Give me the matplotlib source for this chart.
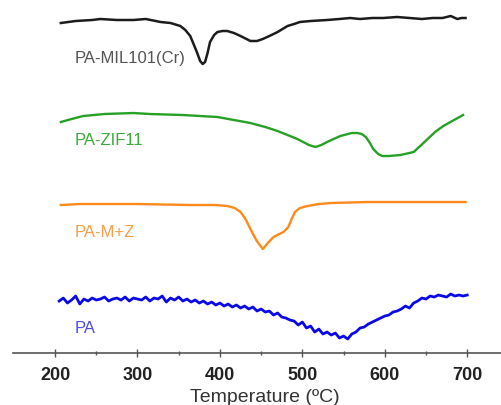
import numpy as np
import matplotlib
matplotlib.use("Agg")
import matplotlib.pyplot as plt

plt.rcParams['font.family'] = ['Liberation Sans', 'DejaVu Sans']

# DTG curves, stacked with offsets (a.u.)
mil_T = [207, 225, 245, 255, 275, 295, 310, 328, 340, 352, 358, 364, 368, 372, 376, 379, 382, 385, 388,
         393, 397, 403, 409, 417, 425, 437, 445, 452, 460, 470, 482, 490, 497, 510, 530, 545, 558, 570,
         585, 598, 615, 630, 645, 658, 670, 680, 688, 693, 698]
mil_y = [330, 332, 333, 334, 333, 333, 334, 331, 330, 327, 323, 317, 309, 301, 292, 289, 291, 300, 311,
         318, 321, 322, 322, 320, 317, 312, 312, 314, 317, 321, 327, 329, 331, 332, 333, 334, 335, 334,
         335, 335, 336, 335, 334, 335, 335, 337, 334, 335, 335]

zif_T = [207, 220, 234, 260, 295, 315, 355, 397, 437, 455, 470, 494, 508, 516, 523, 530, 546, 560,
         567, 572, 577, 582, 586, 592, 597, 605, 619, 635, 643, 652, 661, 671, 684, 695]
zif_y = [231, 234, 237, 239, 240, 239, 238, 236, 230, 226, 222, 214, 208, 206, 208, 211, 217, 220,
         220, 219, 216, 210, 204, 199, 197, 197, 198, 201, 207, 214, 221, 227, 233, 238]

mz_T = [207, 230, 300, 364, 395, 409, 418, 425, 431, 437, 444, 452, 458, 465, 472, 477, 483, 487,
        491, 497, 506, 520, 534, 579, 640, 698]
mz_y = [148, 149, 149, 148, 148, 147, 145, 141, 134, 124, 113, 104, 110, 116, 119, 121, 126, 134,
        141, 145, 147, 149, 150, 151, 151, 151]

pa_T = list(range(205, 705, 5))
pa_y = [52, 55, 50, 53, 57, 49, 54, 52, 55, 53,
        54, 56, 52, 54, 55, 53, 56, 52, 55, 54,
        53, 56, 52, 55, 54, 57, 51, 55, 53, 56,
        52, 54, 51, 53, 50, 52, 49, 51, 48, 50,
        47, 49, 46, 48, 45, 47, 44, 46, 42, 44,
        41, 42, 38, 40, 36, 35, 33, 32, 28, 31,
        25, 27, 21, 24, 19, 21, 18, 20, 15, 17,
        14, 19, 21, 25, 26, 29, 31, 33, 35, 37,
        38, 41, 42, 44, 47, 45, 50, 52, 55, 54,
        57, 56, 58, 57, 56, 59, 57, 58, 57, 58]

names = ['PA-MIL101(Cr)', 'PA-ZIF11', 'PA-M+Z', 'PA']
label_y = [296, 214, 122, 26]

fig = plt.figure(figsize=(5.01, 4.06), dpi=100)
ax = fig.add_axes([0.026, 0.128, 0.974, 0.872])

ax.plot(mil_T, mil_y, color='#1c1c1c', lw=1.8)
ax.plot(zif_T, zif_y, color='#26a026', lw=1.7)
ax.plot(mz_T, mz_y, color='#ff8a1c', lw=1.7)
ax.plot(pa_T, pa_y, color='#0a0ae8', lw=2.0)

text_cols = ['#555555', '#3caa3c', '#f7a04a', '#4d4de6']
for name, yy, c in zip(names, label_y, text_cols):
    ax.text(224, yy, name, color=c, fontsize=12, va='center', ha='left')

ax.set_xlim(149, 741)
ax.set_ylim(0, 354)
for s in ['left', 'right', 'top']:
    ax.spines[s].set_visible(False)
ax.spines['bottom'].set_color('#555555')
ax.spines['bottom'].set_linewidth(1.2)
ax.set_yticks([])
ax.set_xticks([200, 300, 400, 500, 600, 700])
ax.set_xticks([250, 350, 450, 550, 650], minor=True)
ax.tick_params(axis='x', which='major', direction='inout', length=6, width=1, color='#555555',
               labelsize=13, pad=6, labelcolor='#222222')
ax.tick_params(axis='x', which='minor', direction='inout', length=3, width=1, color='#555555')
for lab in ax.get_xticklabels():
    lab.set_fontweight('bold')
ax.set_xlabel('Temperature (ºC)', fontsize=14, color='#333333', labelpad=1)
ax.xaxis.set_label_coords(0.516, -0.098)

fig.savefig('out.png', dpi=100)
